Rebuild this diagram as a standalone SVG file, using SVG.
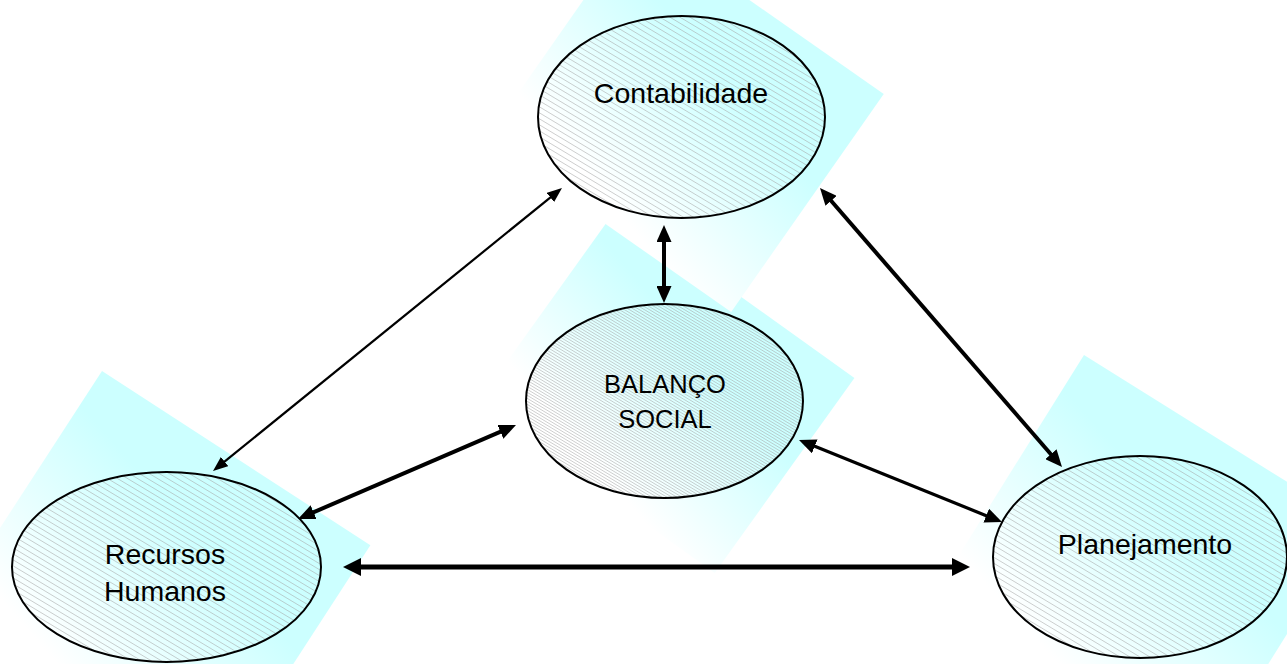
<svg xmlns="http://www.w3.org/2000/svg" width="1287" height="664" viewBox="0 0 1287 664">
  <style>
    .bg { fill: url(#cyanGrad); stroke: none; }
    .outline { fill: none; stroke: #000; stroke-width: 2; }
    .hatch { fill: none; stroke: #a6a6a6; stroke-width: 0.55; }
    .lbl { font-family: "Liberation Sans", Arial, sans-serif; fill: #000; text-anchor: middle; }
    .big { font-size: 28.5px; }
    .mid { font-size: 25.5px; }
    .conn { stroke: #000; fill: none; }
  </style>
  <defs>
    <linearGradient id="cyanGrad" x1="0.65" y1="0" x2="0.35" y2="1">
      <stop offset="0" stop-color="#ccffff"/>
      <stop offset="0.3" stop-color="#ccffff"/>
      <stop offset="0.9" stop-color="#ffffff"/>
    </linearGradient>
    <path id="hatchField" class="hatch" d="M0,-198l330,198M0,-192l330,198M0,-186l330,198M0,-180l330,198M0,-174l330,198M0,-168l330,198M0,-162l330,198M0,-156l330,198M0,-150l330,198M0,-144l330,198M0,-138l330,198M0,-132l330,198M0,-126l330,198M0,-120l330,198M0,-114l330,198M0,-108l330,198M0,-102l330,198M0,-96l330,198M0,-90l330,198M0,-84l330,198M0,-78l330,198M0,-72l330,198M0,-66l330,198M0,-60l330,198M0,-54l330,198M0,-48l330,198M0,-42l330,198M0,-36l330,198M0,-30l330,198M0,-24l330,198M0,-18l330,198M0,-12l330,198M0,-6l330,198M0,0l330,198M0,6l330,198M0,12l330,198M0,18l330,198M0,24l330,198M0,30l330,198M0,36l330,198M0,42l330,198M0,48l330,198M0,54l330,198M0,60l330,198M0,66l330,198M0,72l330,198M0,78l330,198M0,84l330,198M0,90l330,198M0,96l330,198M0,102l330,198M0,108l330,198M0,114l330,198M0,120l330,198M0,126l330,198M0,132l330,198M0,138l330,198M0,144l330,198M0,150l330,198M0,156l330,198M0,162l330,198M0,168l330,198M0,174l330,198M0,180l330,198M0,186l330,198M0,192l330,198M0,198l330,198M0,204l330,198M0,210l330,198M0,216l330,198"/>
    <clipPath id="clipBal"><ellipse cx="664.5" cy="401" rx="138.5" ry="97"/></clipPath>
    <clipPath id="clipCon"><ellipse cx="681.5" cy="117" rx="143.5" ry="101"/></clipPath>
    <clipPath id="clipRec"><ellipse cx="166.5" cy="567" rx="154.5" ry="95"/></clipPath>
    <clipPath id="clipPla"><ellipse cx="1140" cy="557" rx="147" ry="101"/></clipPath>
    <marker id="headThin" markerUnits="userSpaceOnUse" markerWidth="15" markerHeight="12" viewBox="0 0 15 12" refX="5" refY="6" orient="auto-start-reverse">
      <path d="M0,0 L15,6 L0,12 z" fill="#000"/>
    </marker>
    <marker id="headThick" markerUnits="userSpaceOnUse" markerWidth="17" markerHeight="15" viewBox="0 0 17 15" refX="6" refY="7.5" orient="auto-start-reverse">
      <path d="M0,0 L17,7.5 L0,15 z" fill="#000"/>
    </marker>
    <marker id="headBig" markerUnits="userSpaceOnUse" markerWidth="18" markerHeight="18" viewBox="0 0 18 18" refX="6" refY="9" orient="auto-start-reverse">
      <path d="M0,0 L18,9 L0,18 z" fill="#000"/>
    </marker>
  </defs>

  <rect x="0" y="0" width="1287" height="664" fill="#ffffff"/>

  <g id="backgrounds">
    <rect class="bg" x="0" y="0" width="292" height="240" transform="translate(617,208) rotate(35.6)"/>
    <rect class="bg" x="0" y="0" width="300" height="266" transform="translate(638,-78) rotate(35)"/>
    <rect class="bg" x="0" y="0" width="320" height="300" transform="translate(102,371) rotate(33)"/>
    <rect class="bg" x="0" y="0" width="320" height="300" transform="translate(1084,355) rotate(32)"/>
  </g>

  <g id="node-balanco">
    <g clip-path="url(#clipBal)">
      <use href="#hatchField" x="520" y="298"/>
      <use href="#hatchField" x="520" y="301"/>
    </g>
    <ellipse class="outline" cx="664.5" cy="401" rx="138.5" ry="97"/>
    <text class="lbl mid" x="665" y="393">BALANÇO</text>
    <text class="lbl mid" x="665" y="428">SOCIAL</text>
  </g>

  <g id="node-contabilidade">
    <g clip-path="url(#clipCon)">
      <use href="#hatchField" x="528" y="10"/>
    </g>
    <ellipse class="outline" cx="681.5" cy="117" rx="143.5" ry="101"/>
    <text class="lbl big" x="681" y="103">Contabilidade</text>
  </g>

  <g id="node-recursos">
    <g clip-path="url(#clipRec)">
      <use href="#hatchField" x="5" y="465"/>
    </g>
    <ellipse class="outline" cx="166.5" cy="567" rx="154.5" ry="95"/>
    <text class="lbl big" x="165" y="564">Recursos</text>
    <text class="lbl big" x="165" y="601">Humanos</text>
  </g>

  <g id="node-planejamento">
    <g clip-path="url(#clipPla)">
      <use href="#hatchField" x="985" y="450"/>
    </g>
    <ellipse class="outline" cx="1140" cy="557" rx="147" ry="101"/>
    <text class="lbl big" x="1145" y="554">Planejamento</text>
  </g>

  <g id="connectors">
    <line class="conn" x1="554.2" y1="194.3" x2="220.8" y2="464.7" stroke-width="2.2" marker-start="url(#headThin)" marker-end="url(#headThin)"/>
    <line class="conn" x1="664" y1="236" x2="664" y2="292" stroke-width="4" marker-start="url(#headThick)" marker-end="url(#headThick)"/>
    <line class="conn" x1="827.2" y1="196.3" x2="1054.8" y2="458.7" stroke-width="4" marker-start="url(#headThick)" marker-end="url(#headThick)"/>
    <line class="conn" x1="505.9" y1="429.4" x2="308.1" y2="514.6" stroke-width="4" marker-start="url(#headThick)" marker-end="url(#headThick)"/>
    <line class="conn" x1="809.2" y1="444.1" x2="991.8" y2="517.9" stroke-width="3.2" marker-start="url(#headThick)" marker-end="url(#headThick)"/>
    <line class="conn" x1="355" y1="567" x2="958" y2="567" stroke-width="5" marker-start="url(#headBig)" marker-end="url(#headBig)"/>
  </g>
</svg>
